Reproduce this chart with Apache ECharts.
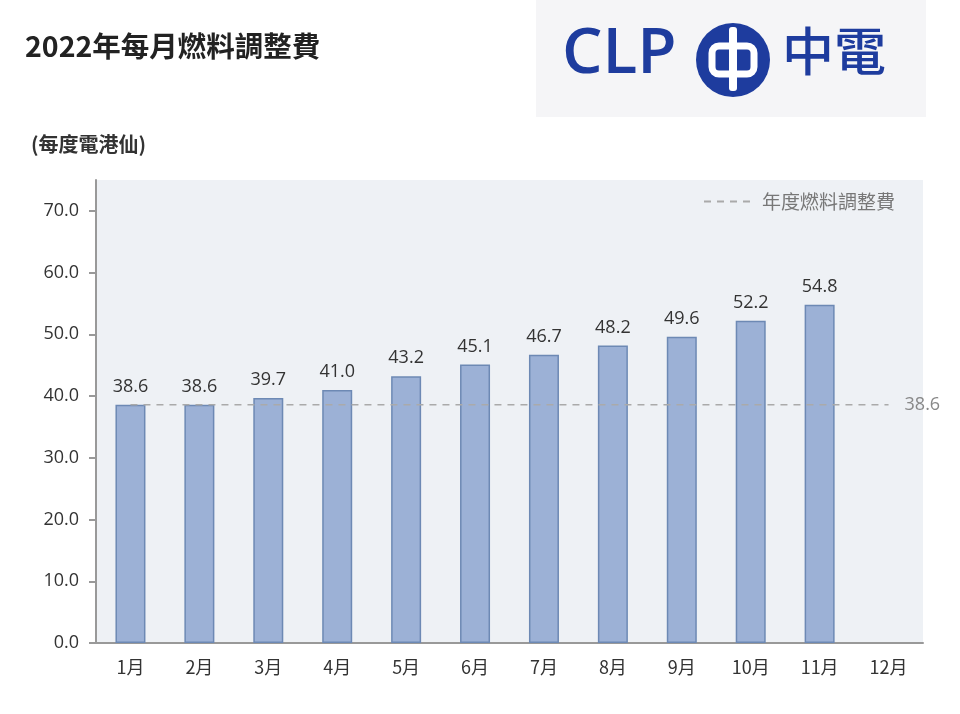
<!DOCTYPE html>
<html>
<head>
<meta charset="utf-8">
<script src="https://cdn.jsdelivr.net/npm/echarts@6/dist/echarts.min.js"></script>
<style>
html,body{margin:0;padding:0;background:#fff;}
#c{width:960px;height:714px;}
</style>
</head>
<body>
<div id="c"></div>
<script>
const months = ['1月','2月','3月','4月','5月','6月','7月','8月','9月','10月','11月','12月'];
const monthlyFuelCharge = [38.6, 38.6, 39.7, 41.0, 43.2, 45.1, 46.7, 48.2, 49.6, 52.2, 54.8, null];
const annualFuelCharge = [38.6, 38.6, 38.6, 38.6, 38.6, 38.6, 38.6, 38.6, 38.6, 38.6, 38.6, 38.6];
const yTicks = [0, 10, 20, 30, 40, 50, 60, 70];

const FONT = '"Noto Sans CJK TC", "Noto Sans", sans-serif';
const NUMFONT = '"Open Sans", "Noto Sans", sans-serif';
const chart = echarts.init(document.getElementById('c'));
chart.setOption({
  animation: false,
  backgroundColor: '#ffffff',
  textStyle: { fontFamily: FONT },
  title: [
    { text: '2022年每月燃料調整費', left: 20, top: 27,
      textStyle: { fontSize: 28.5, fontWeight: 'bold', color: '#222', fontFamily: FONT } },
    { text: '(每度電港仙)', left: 26, top: 129,
      textStyle: { fontSize: 20, fontWeight: 'bold', color: '#333', fontFamily: FONT } }
  ],
  graphic: [
    { type: 'rect', left: 536, top: 0, shape: { width: 390, height: 117 }, style: { fill: '#f5f5f7' }, z: -1 },
    { type: 'text', left: 562, top: 23, style: { text: 'CLP', fill: '#1e3c9e', font: '600 64px "Open Sans", "Noto Sans", sans-serif' } },
    { type: 'circle', shape: { cx: 733, cy: 60, r: 37 }, style: { fill: '#1e3c9e' } },
    { type: 'rect', shape: { x: 712, y: 46, width: 42, height: 28, r: 7 }, style: { fill: 'none', stroke: '#fff', lineWidth: 7 } },
    { type: 'rect', shape: { x: 729, y: 27, width: 8, height: 64, r: 3 }, style: { fill: '#fff' } },
    { type: 'text', left: 782, top: 25, style: { text: '中電', fill: '#1e3c9e', font: '500 52px "Noto Sans CJK TC", sans-serif' } }
  ],
  legend: {
    right: 60, top: 187,
    itemWidth: 46, itemHeight: 10, itemGap: 12,
    data: [{ name: '年度燃料調整費' }],
    itemStyle: { opacity: 0 },
    textStyle: { fontSize: 19, color: '#777', fontFamily: FONT, padding: [0, 0, 0, 7] }
  },
  grid: { left: 96, right: 37, top: 180, bottom: 71, show: true, backgroundColor: '#eef1f5', borderWidth: 0 },
  xAxis: {
    type: 'category', data: months,
    axisLine: { lineStyle: { color: '#999', width: 2 } },
    axisTick: { show: false },
    axisLabel: { fontSize: 18, color: '#333', margin: 15, fontFamily: FONT }
  },
  yAxis: {
    type: 'value', min: 0, max: 75, interval: 5,
    axisLine: { show: true, lineStyle: { color: '#999', width: 2 } },
    axisTick: { show: true, length: 7, lineStyle: { color: '#999', width: 2 }, customValues: yTicks },
    splitLine: { show: false },
    axisLabel: { fontSize: 18, color: '#333', margin: 17, fontFamily: NUMFONT,
      customValues: yTicks, formatter: v => v.toFixed(1) }
  },
  series: [
    {
      name: '每月燃料調整費', type: 'bar', data: monthlyFuelCharge, barWidth: 30,
      itemStyle: { color: '#9cb1d6', borderColor: '#6d89b4', borderWidth: 1.5 },
      label: { show: true, position: 'top', distance: 9, fontSize: 18, color: '#333',
        fontFamily: NUMFONT, formatter: p => p.value.toFixed(1) },
      z: 2
    },
    {
      name: '年度燃料調整費', type: 'line', data: annualFuelCharge,
      symbol: 'none', silent: true,
      lineStyle: { color: '#aaaaaa', width: 1.5, type: [7, 6] },
      itemStyle: { color: '#aaaaaa' },
      endLabel: { show: true, formatter: p => p.value.toFixed(1), fontSize: 18, color: '#888', distance: 16,
        fontFamily: NUMFONT },
      z: 3
    }
  ]
});
</script>
</body>
</html>
